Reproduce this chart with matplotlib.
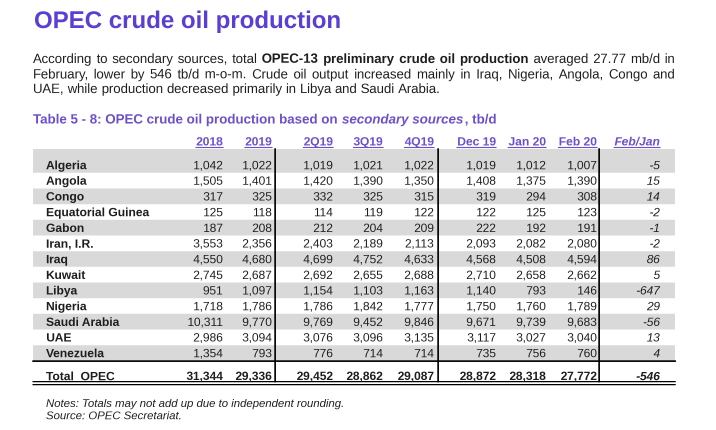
import io
import numpy as np
import matplotlib
matplotlib.use('Agg')
import matplotlib.pyplot as plt
from matplotlib.patches import Rectangle

plt.rcParams['font.family'] = ['Liberation Sans', 'DejaVu Sans']

# table data, tb/d (secondary sources)
countries = ['Algeria', 'Angola', 'Congo', 'Equatorial Guinea', 'Gabon', 'Iran, I.R.',
             'Iraq', 'Kuwait', 'Libya', 'Nigeria', 'Saudi Arabia', 'UAE', 'Venezuela']
columns = ['2018', '2019', '2Q19', '3Q19', '4Q19', 'Dec 19', 'Jan 20', 'Feb 20', 'Feb/Jan']
p2018 = [1042, 1505, 317, 125, 187, 3553, 4550, 2745, 951, 1718, 10311, 2986, 1354]
p2019 = [1022, 1401, 325, 118, 208, 2356, 4680, 2687, 1097, 1786, 9770, 3094, 793]
p2q19 = [1019, 1420, 332, 114, 212, 2403, 4699, 2692, 1154, 1786, 9769, 3076, 776]
p3q19 = [1021, 1390, 325, 119, 204, 2189, 4752, 2655, 1103, 1842, 9452, 3096, 714]
p4q19 = [1022, 1350, 315, 122, 209, 2113, 4633, 2688, 1163, 1777, 9846, 3135, 714]
dec19 = [1019, 1408, 319, 122, 222, 2093, 4568, 2710, 1140, 1750, 9671, 3117, 735]
jan20 = [1012, 1375, 294, 125, 192, 2082, 4508, 2658, 793, 1760, 9739, 3027, 756]
feb20 = [1007, 1390, 308, 123, 191, 2080, 4594, 2662, 146, 1789, 9683, 3040, 760]
change = [-5, 15, 14, -2, -1, -2, 86, 5, -647, 29, -56, 13, 4]
totals = [31344, 29336, 29452, 28862, 29087, 28872, 28318, 27772, -546]
total_label = 'Total  OPEC'

title = 'OPEC crude oil production'
caption_parts = ['Table 5 - 8: OPEC crude oil production based on', 'secondary sources', ', tb/d']
para = [
    [('According to secondary sources, total', False),
     ('OPEC-13 preliminary crude oil production', True),
     ('averaged 27.77 mb/d in', False)],
    [('February, lower by 546 tb/d m-o-m. Crude oil output increased mainly in Iraq, Nigeria, Angola, Congo and', False)],
    [('UAE, while production decreased primarily in Libya and Saudi Arabia.', False)],
]
notes = ['Notes: Totals may not add up due to independent rounding.', 'Source: OPEC Secretariat.']

PURPLE = '#5B3FD3'
PURPLE2 = '#6B4FCB'
INK = '#1e1e1e'
GRAY = '#D9D9D9'

W, H = 716, 430
fig = plt.figure(figsize=(W / 100, H / 100), dpi=100)
ax = fig.add_axes([0, 0, 1, 1])
ax.set_xlim(0, W)
ax.set_ylim(H, 0)
ax.axis('off')
renderer = fig.canvas.get_renderer()


def wid(t):
    return t.get_window_extent(renderer).width


def put_line(segs, y, x0, x1=None, size=9.5):
    # split into words, keep bold flag, then spread them out (justify)
    words = []
    for s, bold in segs:
        for w in s.split(' '):
            words.append((w, bold))
    arts = [ax.text(0, y, w, fontsize=size, fontweight='bold' if b else 'normal',
                    color=INK, va='baseline', ha='left') for w, b in words]
    ws = [wid(t) for t in arts]
    if x1 is None:
        gap = 0.278 * size * 100 / 72
    else:
        gap = (x1 - x0 - sum(ws)) / (len(ws) - 1)
    x = x0
    for t, w in zip(arts, ws):
        t.set_x(x)
        x += w + gap


# title + intro text
ax.text(34, 28, title, fontsize=17.3, fontweight='bold', color=PURPLE, va='baseline')
put_line(para[0], 63, 33, 675)
put_line(para[1], 78.5, 33, 675)
put_line(para[2], 93, 33)

# caption with italic part
x = 33
csize = 9.6
for i, part in enumerate(caption_parts):
    t = ax.text(x, 123.5, part, fontsize=csize, fontweight='bold', color=PURPLE2,
                style='italic' if i == 1 else 'normal', va='baseline')
    x += wid(t) + (0.278 * csize * 100 / 72 if i == 0 else 0.5)

# table layout
col_right = [223, 272, 333, 383, 434, 496, 546, 597, 660]
left, right = 33, 675
row0, dy = 165, 15.67
fs = 8.6

for j, c in enumerate(columns):
    t = ax.text(col_right[j], 145.5, c, fontsize=8.7, fontweight='bold', color=PURPLE2,
                style='italic' if c == 'Feb/Jan' else 'normal', ha='right', va='baseline')
    w = wid(t)
    ax.plot([col_right[j] - w, col_right[j]], [147.6, 147.6], color=PURPLE2, lw=0.8)

series = [p2018, p2019, p2q19, p3q19, p4q19, dec19, jan20, feb20]
for i, name in enumerate(countries):
    yc = row0 + dy * i
    top = 149 if i == 0 else yc - dy / 2
    if i % 2 == 0:
        ax.add_patch(Rectangle((left, top), right - left, yc + dy / 2 - top,
                               facecolor=GRAY, edgecolor='none', zorder=0))
    ax.text(46, yc + 4.2, name, fontsize=8.7, fontweight='bold', color=INK, va='baseline')
    for j, s in enumerate(series):
        ax.text(col_right[j], yc + 4.2, f'{s[i]:,}', fontsize=fs, color=INK,
                ha='right', va='baseline')
    ax.text(col_right[8], yc + 4.2, str(change[i]), fontsize=fs, style='italic',
            color=INK, ha='right', va='baseline')

# total row
yt = 376
ax.text(46, yt + 4.2, total_label, fontsize=8.7, fontweight='bold', color=INK, va='baseline')
for j, v in enumerate(totals):
    ax.text(col_right[j], yt + 4.2, f'{v:,}', fontsize=fs, fontweight='bold', color=INK,
            style='italic' if j == 8 else 'normal', ha='right', va='baseline')

ax.plot([left, right], [361, 361], color='black', lw=1.2)
ax.plot([left, right], [381.5, 381.5], color='black', lw=0.9)
ax.plot([left, right], [384.5, 384.5], color='black', lw=0.9)
for xv in [275, 438, 599]:
    ax.plot([xv, xv], [149, 381.5], color='black', lw=1.2)

# notes
for k, n in enumerate(notes):
    ax.text(46, 407 + 12.3 * k, n, fontsize=8.2, style='italic', color=INK, va='baseline')

# Agg snaps each text to whole pixels (baselines jump by 1px at 100 dpi),
# so draw at 4x and average down to 716x430
S = 4
buf = io.BytesIO()
fig.savefig(buf, format='rgba', dpi=100 * S)
big = np.frombuffer(buf.getvalue(), dtype=np.uint8).reshape(H * S, W * S, 4)
small = big.reshape(H, S, W, S, 4).astype(float).mean(axis=(1, 3))
plt.imsave('out.png', small.round().astype(np.uint8))
